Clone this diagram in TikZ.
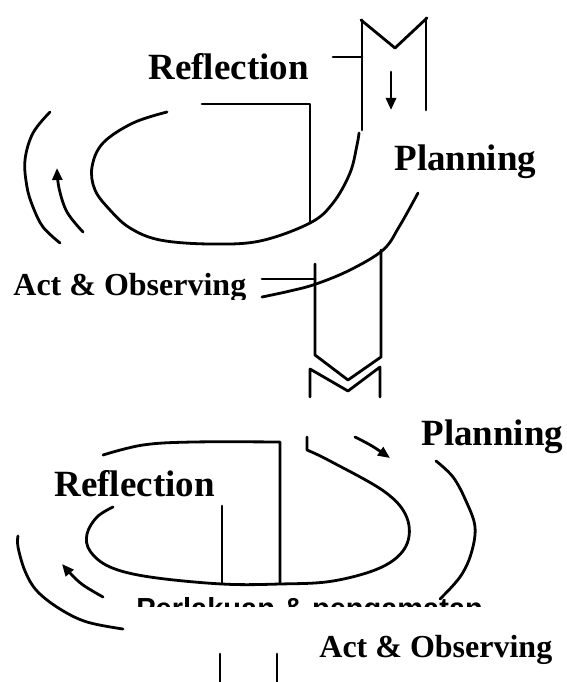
\documentclass[tikz,border=0pt]{standalone}
\usepackage{fontspec}
\setmainfont{Liberation Serif}
\newfontfamily\labsans{Liberation Sans}
\usetikzlibrary{arrows.meta}
\begin{document}
\begin{tikzpicture}[x=1pt,y=-1pt, line width=2.8pt, line join=round, line cap=round,
  bigtxt/.style={anchor=base west, inner sep=0pt, font=\bfseries\fontsize{37}{37}\selectfont},
  acttxt/.style={anchor=base west, inner sep=0pt, font=\bfseries\fontsize{32}{32}\selectfont},
  tipped/.style={-{Triangle[length=12pt,width=10pt]}},
  sm/.style={smooth, tension=0.6}]
\useasboundingbox (0,0) rectangle (566,682);

% ---------- upper pipe (entry) ----------
\draw (361,20) -- (395,48) -- (427,18);
\draw (362,20) -- (362,130);
\draw (426,18) -- (426,110);
\draw (333,57) -- (362,57);
\draw[tipped] (391,72) -- (391,110);

% ---------- upper loop ----------
\draw (202,104) -- (310,104) -- (310,223);
\draw plot[sm] coordinates {(167,112) (133,123) (103,143) (92,167) (95,190) (110,210) (130,228) (160,240) (210,244) (260,241) (310,223) (333,203) (350,173) (357,145) (359,133)};
\draw plot[sm] coordinates {(50,112) (33,133) (25,160) (27,187) (33,207) (43,227) (60,243)};
\draw plot[sm] coordinates {(262,297) (290,291) (316,284) (350,270) (383,250) (399,227) (418,193)};
\draw[tipped] plot[sm] coordinates {(83,232) (67,212) (59,188) (57,168)};

% ---------- connecting pipe ----------
\draw (315,264) -- (315,355) -- (348,380) -- (381,357) -- (381,250);
\draw (262,279) -- (315,279);
\draw (310,397) -- (310,369) -- (348,391) -- (380,367) -- (380,397);

% ---------- lower loop ----------
\draw plot[sm] coordinates {(103,455) (143,445) (193,442) (280,442)} -- (280,583);
\draw (222,506) -- (222,583);
\draw (307,437) -- plot[sm] coordinates {(307,450) (330,461) (385,492) (407,518) (406,546) (382,567) (333,581) (280,584) (222,584) (150,577) (110,567) (90,551) (87,534) (97,517) (113,507)};
\draw plot[sm] coordinates {(18,536) (18,547) (25,571) (37,591) (60,609) (87,622) (123,629)};
\draw plot[sm] coordinates {(436,461) (453,477) (466,501) (475,527) (471,554) (460,577) (440,599)};
\draw[tipped] plot[sm] coordinates {(103,597) (83,585) (71,574) (62,564)};
\draw[tipped] plot[sm] coordinates {(355,437) (372,446) (390,458)};
\draw (220,654) -- (220,682);
\draw (277,654) -- (277,682);

% ---------- partly hidden original caption ----------
\begin{scope}
\clip (120,590) rectangle (490,606);
\node[anchor=base west, inner sep=0pt, font=\labsans\bfseries\fontsize{29}{29}\selectfont] (perl) at (135,618) {Perlakuan \& pengamatan};
\end{scope}

% ---------- labels ----------
\node[bigtxt] (refl1) at (147,80) {Reflection};
\node[bigtxt] (plan1) at (393,170) {Planning};
\begin{scope}
\clip (0,240) rectangle (260,299);
\node[acttxt] (act1) at (12,295) {Act \& Observing};
\end{scope}
\node[bigtxt] (plan2) at (420,445) {Planning};
\node[bigtxt] (refl2) at (53,496) {Reflection};
\node[acttxt] (act2) at (318,657) {Act \& Observing};
\end{tikzpicture}
\end{document}
